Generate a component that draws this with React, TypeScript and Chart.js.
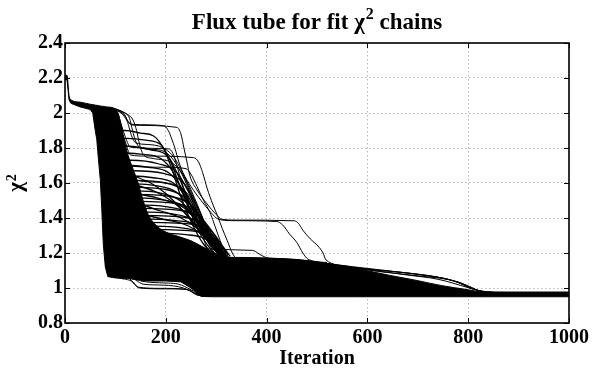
import React, { useEffect, useRef } from "react";
import { Chart, registerables } from "chart.js";

Chart.register(...registerables);

const FONT = '"Liberation Serif", "Times New Roman", serif';

const xTickValues = [0, 200, 400, 600, 800, 1000];
const yTickValues = [0.8, 1, 1.2, 1.4, 1.6, 1.8, 2, 2.2, 2.4];

// Dense (solid black) core of the overlapping chains: iteration, upper and lower chi^2 edges
const coreIter = [0, 4, 8, 12, 30, 50, 55, 60, 63, 65, 70, 73, 76, 80, 85, 95, 105, 112, 118, 125, 135, 145, 155, 165, 180, 200, 230, 250, 270, 290, 305, 320, 335, 450, 520, 580, 645, 700, 745, 800, 830, 1000];
const coreUpper = [2.215, 2.215, 2.1, 2.075, 2.062, 2.05, 2.048, 2.045, 2.044, 2.043, 2.04, 2.039, 2.038, 2.036, 2.034, 2.03, 2.0, 1.92, 1.84, 1.76, 1.68, 1.6, 1.5, 1.42, 1.36, 1.32, 1.29, 1.27, 1.24, 1.21, 1.19, 1.178, 1.172, 1.165, 1.14, 1.11, 1.072, 1.042, 1.015, 0.99, 0.977, 0.977];
const coreLower = [2.19, 2.19, 2.075, 2.055, 2.035, 2.02, 2.0, 1.9, 1.85, 1.78, 1.62, 1.45, 1.25, 1.12, 1.065, 1.06, 1.058, 1.056, 1.055, 1.055, 1.05, 1.045, 1.042, 1.04, 1.04, 1.04, 1.035, 1.0, 0.952, 0.95, 0.95, 0.95, 0.95, 0.95, 0.95, 0.95, 0.95, 0.95, 0.95, 0.95, 0.95, 0.95];

// Individual chains: flat [iteration, chi2, iteration, chi2, ...]
const highChains: number[][] = [
  [100, 2.02, 115, 1.99, 125, 1.95, 135, 1.935, 195, 1.928, 205, 1.9, 212, 1.85, 218, 1.8, 226, 1.72, 234, 1.66, 250, 1.58, 270, 1.5, 290, 1.43, 303, 1.395, 330, 1.385, 420, 1.38, 432, 1.36, 445, 1.31, 460, 1.26, 472, 1.2, 482, 1.165, 520, 1.145],
  [100, 2.02, 118, 1.99, 128, 1.94, 140, 1.93, 222, 1.918, 230, 1.88, 236, 1.8, 242, 1.72, 248, 1.64, 262, 1.56, 282, 1.48, 300, 1.42, 312, 1.392, 340, 1.388, 455, 1.384, 463, 1.37, 472, 1.33, 487, 1.28, 502, 1.24, 512, 1.2, 518, 1.16, 560, 1.125],
  [105, 2.0, 120, 1.86, 130, 1.805, 205, 1.795, 214, 1.77, 222, 1.7, 232, 1.6, 246, 1.5, 262, 1.4, 277, 1.3, 292, 1.22, 306, 1.175, 340, 1.165],
  [100, 1.98, 118, 1.85, 130, 1.76, 160, 1.754, 255, 1.745, 265, 1.72, 273, 1.66, 282, 1.57, 293, 1.48, 303, 1.41, 312, 1.34, 322, 1.27, 332, 1.2, 340, 1.17, 370, 1.16],
  [95, 1.95, 125, 1.72, 135, 1.695, 200, 1.69, 240, 1.682, 250, 1.65, 262, 1.58, 275, 1.5, 288, 1.43, 298, 1.35, 308, 1.27, 318, 1.2, 328, 1.17, 360, 1.165],
  [90, 1.75, 135, 1.62, 200, 1.6, 240, 1.55, 260, 1.45, 272, 1.33, 280, 1.24, 290, 1.222, 372, 1.215, 385, 1.195, 398, 1.175, 410, 1.168, 440, 1.165],
  [95, 2.028, 112, 2.01, 125, 1.99, 135, 1.96, 142, 1.9, 148, 1.82, 156, 1.76, 175, 1.74, 215, 1.71, 240, 1.62, 262, 1.48, 285, 1.32, 305, 1.2, 320, 1.17],
  [100, 2.025, 118, 2.0, 128, 1.97, 134, 1.9, 140, 1.84, 150, 1.8, 185, 1.79, 210, 1.75, 232, 1.65, 255, 1.5, 278, 1.35, 298, 1.23, 315, 1.175],
  [105, 2.015, 120, 1.98, 126, 1.93, 132, 1.87, 140, 1.83, 165, 1.82, 195, 1.8, 218, 1.74, 242, 1.6, 265, 1.45, 288, 1.3, 308, 1.2, 322, 1.17],
];

const fanChains: number[][] = [
  [80, 1.9, 120, 1.9, 150, 1.885, 175, 1.87, 195, 1.8, 212, 1.68, 230, 1.52, 250, 1.38, 275, 1.25, 300, 1.18],
  [80, 1.85, 122, 1.855, 160, 1.845, 190, 1.82, 210, 1.72, 228, 1.58, 248, 1.44, 270, 1.3, 295, 1.2],
  [80, 1.8, 125, 1.81, 170, 1.79, 205, 1.75, 225, 1.64, 245, 1.5, 268, 1.36, 290, 1.24, 310, 1.18],
  [80, 1.76, 127, 1.77, 150, 1.765, 190, 1.74, 215, 1.66, 238, 1.52, 260, 1.38, 282, 1.27, 305, 1.19],
  [80, 1.72, 130, 1.73, 185, 1.71, 222, 1.66, 245, 1.55, 268, 1.4, 290, 1.27, 312, 1.19],
  [79, 1.69, 132, 1.7, 165, 1.69, 205, 1.66, 232, 1.57, 255, 1.44, 278, 1.31, 300, 1.21],
  [78, 1.66, 134, 1.67, 195, 1.655, 235, 1.6, 258, 1.49, 280, 1.35, 302, 1.23, 320, 1.18],
  [78, 1.63, 136, 1.64, 175, 1.63, 215, 1.6, 242, 1.51, 265, 1.38, 288, 1.26, 308, 1.19],
  [77, 1.61, 138, 1.615, 200, 1.6, 240, 1.54, 260, 1.44, 280, 1.32, 300, 1.22, 318, 1.18],
  [77, 1.59, 140, 1.595, 180, 1.585, 220, 1.55, 245, 1.47, 266, 1.36, 288, 1.25, 308, 1.19],
  [77, 1.57, 140, 1.575, 205, 1.56, 240, 1.51, 262, 1.42, 282, 1.31, 302, 1.22, 318, 1.18],
  [76, 1.55, 142, 1.555, 185, 1.545, 228, 1.5, 252, 1.42, 274, 1.32, 296, 1.23, 314, 1.18],
  [76, 1.53, 142, 1.535, 215, 1.52, 252, 1.47, 272, 1.39, 292, 1.29, 310, 1.21, 324, 1.18],
  [76, 1.51, 145, 1.515, 190, 1.505, 235, 1.47, 260, 1.4, 282, 1.31, 304, 1.22, 320, 1.18],
  [76, 1.49, 145, 1.495, 225, 1.48, 262, 1.43, 282, 1.35, 302, 1.26, 318, 1.19],
  [75, 1.47, 148, 1.475, 200, 1.465, 245, 1.43, 270, 1.36, 292, 1.28, 312, 1.2],
  [75, 1.45, 148, 1.455, 235, 1.44, 270, 1.4, 290, 1.33, 308, 1.25, 324, 1.19],
  [75, 1.43, 150, 1.435, 210, 1.425, 255, 1.39, 280, 1.33, 300, 1.26, 318, 1.19],
  [75, 1.41, 150, 1.415, 245, 1.4, 278, 1.36, 298, 1.3, 315, 1.23, 328, 1.18],
  [75, 1.39, 152, 1.395, 220, 1.385, 262, 1.36, 286, 1.3, 306, 1.23, 322, 1.18],
  [75, 1.37, 152, 1.375, 250, 1.365, 282, 1.33, 302, 1.27, 320, 1.2],
  [75, 1.35, 155, 1.355, 228, 1.345, 268, 1.32, 292, 1.27, 312, 1.21],
  [75, 1.33, 155, 1.335, 255, 1.325, 286, 1.3, 306, 1.25, 324, 1.19],
  [75, 1.31, 158, 1.315, 240, 1.305, 276, 1.285, 298, 1.24, 318, 1.19],
  [76, 1.56, 140, 1.54, 200, 1.5, 240, 1.45, 262, 1.38, 285, 1.28, 305, 1.2],
  [76, 1.5, 145, 1.48, 190, 1.44, 230, 1.4, 258, 1.35, 285, 1.27, 308, 1.2],
  [77, 1.62, 138, 1.59, 180, 1.55, 215, 1.49, 245, 1.41, 270, 1.32, 295, 1.23],
  [76, 1.44, 150, 1.42, 200, 1.39, 240, 1.36, 270, 1.31, 295, 1.25, 318, 1.19],
  [78, 1.68, 135, 1.64, 170, 1.6, 200, 1.54, 228, 1.46, 255, 1.37, 280, 1.28, 305, 1.2],
];

const lowChains: number[][] = [
  [128, 1.055, 138, 1.02, 148, 1.0, 200, 0.995, 245, 0.99, 262, 0.96, 280, 0.955],
  [140, 1.045, 155, 1.022, 175, 1.018, 215, 1.012, 235, 1.0, 258, 0.97, 275, 0.956],
  [150, 1.04, 170, 1.032, 205, 1.028, 225, 1.022, 250, 0.99, 268, 0.96, 285, 0.955],
  [95, 1.06, 120, 1.05, 135, 1.035, 145, 1.005, 190, 0.998, 240, 0.993, 265, 0.958, 290, 0.954],
];

const bandChains: number[][] = [
  [330, 1.175, 400, 1.172, 480, 1.156, 540, 1.132, 600, 1.112, 660, 1.092, 720, 1.07, 760, 1.05, 800, 1.012, 830, 0.978, 870, 0.975],
  [330, 1.172, 450, 1.162, 560, 1.122, 620, 1.102, 680, 1.086, 740, 1.062, 780, 1.032, 820, 0.986, 850, 0.976],
  [450, 1.16, 560, 1.118, 640, 1.097, 700, 1.078, 770, 1.042, 810, 0.993, 840, 0.976],
  [480, 1.15, 600, 1.105, 680, 1.074, 740, 1.05, 800, 1.002, 830, 0.977],
  [520, 1.14, 620, 1.095, 700, 1.07, 780, 1.035, 815, 0.99, 835, 0.976],
];

function toPoints(flat: number[]) {
  const pts: { x: number; y: number }[] = [];
  for (let i = 0; i < flat.length; i += 2) pts.push({ x: flat[i], y: flat[i + 1] });
  return pts;
}

const decorPlugin = {
  id: "decor",
  afterDraw(chart: any) {
    const { ctx, chartArea: a, scales } = chart;
    ctx.save();
    ctx.strokeStyle = "#000";
    ctx.fillStyle = "#000";
    ctx.lineWidth = 1;
    ctx.beginPath();
    for (const v of xTickValues) {
      const x = Math.round(scales.x.getPixelForValue(v)) + 0.5;
      ctx.moveTo(x, a.bottom); ctx.lineTo(x, a.bottom - 5);
      ctx.moveTo(x, a.top); ctx.lineTo(x, a.top + 5);
    }
    for (const v of yTickValues) {
      const y = Math.round(scales.y.getPixelForValue(v)) + 0.5;
      ctx.moveTo(a.left, y); ctx.lineTo(a.left + 5, y);
      ctx.moveTo(a.right, y); ctx.lineTo(a.right - 5, y);
    }
    ctx.stroke();
    ctx.lineWidth = 1.6;
    ctx.strokeRect(a.left, a.top, a.right - a.left, a.bottom - a.top);

    const p1 = "Flux tube for fit \u03c7";
    const p2 = "2";
    const p3 = " chains";
    ctx.font = `bold 23px ${FONT}`;
    const w1 = ctx.measureText(p1).width;
    const w3 = ctx.measureText(p3).width;
    ctx.font = `bold 16px ${FONT}`;
    const w2 = ctx.measureText(p2).width;
    const total = w1 + w2 + w3 + 1;
    const x0 = (a.left + a.right) / 2 - total / 2;
    ctx.textBaseline = "alphabetic";
    ctx.textAlign = "left";
    ctx.font = `bold 23px ${FONT}`;
    ctx.fillText(p1, x0, 29);
    ctx.font = `bold 16px ${FONT}`;
    ctx.fillText(p2, x0 + w1 + 1, 19);
    ctx.font = `bold 23px ${FONT}`;
    ctx.fillText(p3, x0 + w1 + w2 + 1, 29);

    ctx.translate(22, (a.top + a.bottom) / 2);
    ctx.rotate(-Math.PI / 2);
    ctx.font = `bold 21px ${FONT}`;
    const c1 = ctx.measureText("\u03c7").width;
    ctx.font = `bold 14px ${FONT}`;
    const c2 = ctx.measureText("2").width;
    const cx = -(c1 + c2 + 1) / 2;
    ctx.font = `bold 21px ${FONT}`;
    ctx.fillText("\u03c7", cx, 0);
    ctx.font = `bold 14px ${FONT}`;
    ctx.fillText("2", cx + c1 + 1, -6);
    ctx.restore();
  },
};

export default function App() {
  const canvasRef = useRef<HTMLCanvasElement | null>(null);

  useEffect(() => {
    const canvas = canvasRef.current;
    if (!canvas) return;

    const lineStyle = {
      borderColor: "#000",
      borderWidth: 1,
      pointRadius: 0,
      fill: false,
      cubicInterpolationMode: "monotone" as const,
    };

    const chainSets = [
      ...highChains.map((c) => ({ ...lineStyle, data: toPoints(c) })),
      ...fanChains.map((c) => ({ ...lineStyle, borderWidth: 1.3, data: toPoints(c) })),
      ...lowChains.map((c) => ({ ...lineStyle, data: toPoints(c) })),
      ...bandChains.map((c) => ({ ...lineStyle, data: toPoints(c) })),
    ];

    const lowerEdge = coreIter.map((x, i) => ({ x, y: coreLower[i] }));
    const upperEdge = coreIter.map((x, i) => ({ x, y: coreUpper[i] }));

    const chart = new Chart(canvas, {
      type: "line",
      data: {
        datasets: [
          ...chainSets,
          { data: lowerEdge, borderColor: "#000", borderWidth: 1, pointRadius: 0, fill: false },
          {
            data: upperEdge,
            borderColor: "#000",
            borderWidth: 1,
            pointRadius: 0,
            backgroundColor: "#000",
            fill: "-1",
            cubicInterpolationMode: "monotone",
          },
        ],
      },
      options: {
        animation: false,
        responsive: false,
        parsing: false as any,
        normalized: true,
        layout: { padding: { left: 0, right: 22, top: 43, bottom: 0 } },
        plugins: {
          legend: { display: false },
          title: { display: false },
          tooltip: { enabled: false },
        },
        scales: {
          x: {
            type: "linear",
            min: 0,
            max: 1000,
            afterBuildTicks: (s: any) => {
              s.ticks = xTickValues.map((v) => ({ value: v }));
            },
            afterFit: (s: any) => {
              s.height = 48;
            },
            ticks: {
              color: "#000",
              font: { family: FONT, size: 20, weight: "bold" },
              padding: 3,
              maxRotation: 0,
              autoSkip: false,
              callback: (v: any) => String(v),
            },
            grid: { color: "#b8b8b8", lineWidth: 1, drawTicks: false },
            border: { display: false, dash: [1.5, 2.5] },
            title: {
              display: true,
              text: "Iteration",
              color: "#000",
              font: { family: FONT, size: 20, weight: "bold" },
              padding: 0,
            },
          },
          y: {
            type: "linear",
            min: 0.8,
            max: 2.4,
            afterBuildTicks: (s: any) => {
              s.ticks = yTickValues.map((v) => ({ value: v }));
            },
            afterFit: (s: any) => {
              s.width = 65;
            },
            ticks: {
              color: "#000",
              font: { family: FONT, size: 20, weight: "bold" },
              padding: 2,
              autoSkip: false,
              callback: (v: any) => String(Number(Number(v).toFixed(1))),
            },
            grid: { color: "#b8b8b8", lineWidth: 1, drawTicks: false },
            border: { display: false, dash: [1.5, 2.5] },
          },
        },
      },
      plugins: [decorPlugin],
    });

    return () => chart.destroy();
  }, []);

  return (
    <div style={{ position: "fixed", left: 0, top: 0, width: 592, height: 371, background: "#fff" }}>
      <canvas ref={canvasRef} width={592} height={371} style={{ display: "block" }} />
    </div>
  );
}
